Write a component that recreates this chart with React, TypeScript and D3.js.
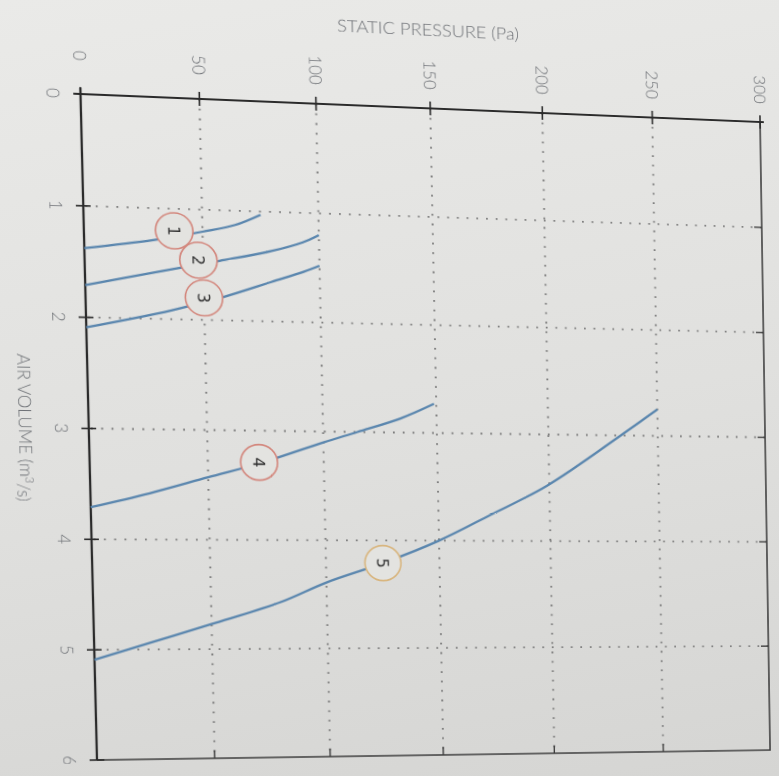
import * as d3 from "d3";
import {useEffect, useRef} from "react";

const pressureTicks = [0, 50, 100, 150, 200, 250, 300];
const volumeTicks = [0, 1, 2, 3, 4, 5, 6];

// fan curves, [air volume m3/s, static pressure Pa]
const fan1: [number, number][] = [[1.38, 0], [1.29, 29], [1.20, 50], [1.13, 64], [1.03, 75]];
const fan2: [number, number][] = [[1.71, 0], [1.55, 36], [1.46, 57], [1.36, 79], [1.27, 93], [1.20, 100]];
const fan3: [number, number][] = [[2.09, 0], [1.92, 36], [1.79, 58], [1.64, 79], [1.54, 93], [1.48, 100]];
const fan4: [number, number][] = [[3.71, 0], [3.58, 25], [3.43, 50], [3.30, 72], [3.10, 100], [3.00, 115], [2.87, 134], [2.73, 149]];
const fan5: [number, number][] = [[5.09, 0], [4.93, 25], [4.77, 50], [4.57, 80], [4.39, 100], [4.21, 125], [4.00, 150], [3.76, 173], [3.48, 199], [3.00, 233], [2.75, 250]];

const fanCurves = [fan1, fan2, fan3, fan4, fan5];
const fanNames = ["1", "2", "3", "4", "5"];
const labelSpots: [number, number][] = [[1.20, 38], [1.46, 48], [1.80, 50], [3.29, 72], [4.21, 125]];
const labelStrokes = ["#d3877d", "#d3877d", "#d3877d", "#d3877d", "#d8b57e"];

// corners of the plot frame in the photo: TL, TR, BR, BL
const photoCorners: [number, number][] = [[80.5, 94], [760, 122], [770, 750], [97, 760]];

// css matrix3d that takes the flat rect onto the photographed quad
function perspective(left: number, top: number, w: number, h: number, quad: [number, number][]) {
    const [[x0, y0], [x1, y1], [x2, y2], [x3, y3]] = quad;
    const dx1 = x1 - x2, dx2 = x3 - x2, dx3 = x0 - x1 + x2 - x3;
    const dy1 = y1 - y2, dy2 = y3 - y2, dy3 = y0 - y1 + y2 - y3;
    const den = dx1 * dy2 - dx2 * dy1;
    const g = (dx3 * dy2 - dx2 * dy3) / den;
    const h2 = (dx1 * dy3 - dx3 * dy1) / den;
    const a = x1 - x0 + g * x1, b = x3 - x0 + h2 * x3, c = x0;
    const d = y1 - y0 + g * y1, e = y3 - y0 + h2 * y3, f = y0;
    const m11 = a / w, m12 = b / h, m13 = c - a * left / w - b * top / h;
    const m21 = d / w, m22 = e / h, m23 = f - d * left / w - e * top / h;
    const m31 = g / w, m32 = h2 / h, m33 = 1 - g * left / w - h2 * top / h;
    return `matrix3d(${[m11, m21, 0, m31, m12, m22, 0, m32, 0, 0, 1, 0, m13, m23, 0, m33].join(",")})`;
}

const App = () => {
    const svgRef = useRef(null);

    const width = 779;
    const height = 776;
    const frame = {left: 80, top: 94, w: 680, h: 665};

    useEffect(() => {
        if (!svgRef.current) return;
        const svg = d3.select(svgRef.current);
        svg.selectAll("*").remove();

        const W = frame.h; // volume axis length
        const H = frame.w; // pressure axis length

        // chart is drawn the usual way, then turned a quarter clockwise like the page
        const g = svg.append("g")
            .attr("transform", `translate(${frame.left + frame.w},${frame.top}) rotate(90)`);

        const x = d3.scaleLinear().domain([0, 6]).range([0, W]);
        const y = d3.scaleLinear().domain([0, 300]).range([H, 0]);

        const font = "Lato, 'Open Sans', sans-serif";
        const labelColor = "#6d7075";

        // dotted grid
        const grid = g.append("g")
            .attr("stroke", "#7c7c7c")
            .attr("stroke-width", 1.9)
            .attr("stroke-dasharray", "1.8 8");
        grid.selectAll(".gv").data(volumeTicks.slice(1, -1)).join("line")
            .attr("x1", d => x(d)).attr("x2", d => x(d))
            .attr("y1", 0).attr("y2", H);
        grid.selectAll(".gp").data(pressureTicks.slice(1, -1)).join("line")
            .attr("x1", 0).attr("x2", W)
            .attr("y1", d => y(d)).attr("y2", d => y(d));

        // far side of the frame
        g.append("path")
            .attr("d", `M${x(0)},${y(300)}H${x(6)}V${y(0)}`)
            .attr("fill", "none").attr("stroke", "#3c3c3c").attr("stroke-width", 1.6);
        g.selectAll(".tp").data(pressureTicks.slice(1, -1)).join("line")
            .attr("x1", W - 8).attr("x2", W)
            .attr("y1", d => y(d)).attr("y2", d => y(d))
            .attr("stroke", "#3c3c3c").attr("stroke-width", 1.4);
        g.selectAll(".tv").data(volumeTicks.slice(1, -1)).join("line")
            .attr("x1", d => x(d)).attr("x2", d => x(d))
            .attr("y1", 0).attr("y2", 8)
            .attr("stroke", "#3c3c3c").attr("stroke-width", 1.4);

        // main axes with crossing ticks
        g.append("line").attr("x1", 0).attr("x2", 0).attr("y1", -4).attr("y2", H + 6)
            .attr("stroke", "#2b2b2b").attr("stroke-width", 2.2);
        g.append("line").attr("x1", -6).attr("x2", W).attr("y1", H).attr("y2", H)
            .attr("stroke", "#2b2b2b").attr("stroke-width", 2.2);
        g.selectAll(".ap").data(pressureTicks).join("line")
            .attr("x1", -7).attr("x2", 7)
            .attr("y1", d => y(d)).attr("y2", d => y(d))
            .attr("stroke", "#2b2b2b").attr("stroke-width", 1.6);
        g.selectAll(".av").data(volumeTicks).join("line")
            .attr("x1", d => x(d)).attr("x2", d => x(d))
            .attr("y1", H - 7).attr("y2", H + 7)
            .attr("stroke", "#2b2b2b").attr("stroke-width", 1.6);

        // tick labels
        g.selectAll(".lp").data(pressureTicks).join("text")
            .attr("x", d => d === 0 ? -38 : -34).attr("y", d => y(d))
            .attr("dy", "0.35em")
            .attr("text-anchor", "middle")
            .attr("font-family", font)
            .attr("font-weight", 300)
            .attr("font-size", 17)
            .attr("fill", labelColor)
            .text(d => d);
        g.selectAll(".lv").data(volumeTicks).join("text")
            .attr("x", d => x(d)).attr("y", H + 26)
            .attr("dy", "0.35em")
            .attr("text-anchor", "middle")
            .attr("font-family", font)
            .attr("font-weight", 300)
            .attr("font-size", 17)
            .attr("fill", labelColor)
            .text(d => d);

        // axis titles
        g.append("text")
            .attr("transform", `translate(-80,${H / 2}) rotate(-90)`)
            .attr("text-anchor", "middle")
            .attr("dy", "0.35em")
            .attr("font-family", font)
            .attr("font-weight", 300)
            .attr("font-size", 17)
            .attr("fill", labelColor)
            .attr("textLength", 182).attr("lengthAdjust", "spacingAndGlyphs")
            .text("STATIC PRESSURE (Pa)");
        const volTitle = g.append("text")
            .attr("x", W / 2).attr("y", H + 60)
            .attr("dy", "0.35em")
            .attr("text-anchor", "middle")
            .attr("font-family", font)
            .attr("font-weight", 300)
            .attr("font-size", 17)
            .attr("fill", labelColor);
        volTitle.append("tspan").text("AIR VOLUME (m");
        volTitle.append("tspan").attr("dy", "-0.45em").attr("font-size", 11).text("3");
        volTitle.append("tspan").attr("dy", "0.45em").text("/s)");

        // fan curves
        const line = d3.line<[number, number]>()
            .x(d => x(d[0]))
            .y(d => y(d[1]))
            .curve(d3.curveCatmullRom);

        g.selectAll(".fan").data(fanCurves).join("path")
            .attr("fill", "none")
            .attr("stroke", "#5a86ae")
            .attr("stroke-width", 2.3)
            .attr("d", d => line(d));

        // numbered circles
        const tags = g.selectAll(".tag").data(fanNames).join("g")
            .attr("transform", (d, i) => `translate(${x(labelSpots[i][0])},${y(labelSpots[i][1])})`);
        tags.append("circle")
            .attr("r", 18)
            .attr("fill", "#e3e3e0")
            .attr("stroke", (d, i) => labelStrokes[i])
            .attr("stroke-width", 1.6);
        tags.append("text")
            .attr("text-anchor", "middle")
            .attr("dy", "0.36em")
            .attr("font-family", "'DejaVu Sans', sans-serif")
            .attr("font-size", 16)
            .attr("fill", "#333")
            .text(d => d);
    }, []);

    return <div style={{
        position: "absolute", left: 0, top: 0, width, height, overflow: "hidden",
        background: "linear-gradient(170deg, #eaeae8 0%, #e0e0de 55%, #d5d5d3 100%)"
    }}>
        <svg ref={svgRef} width={width} height={height} style={{
            position: "absolute", left: 0, top: 0, transformOrigin: "0 0",
            transform: perspective(frame.left, frame.top, frame.w, frame.h, photoCorners)
        }}/>
    </div>;
};

export default App;
